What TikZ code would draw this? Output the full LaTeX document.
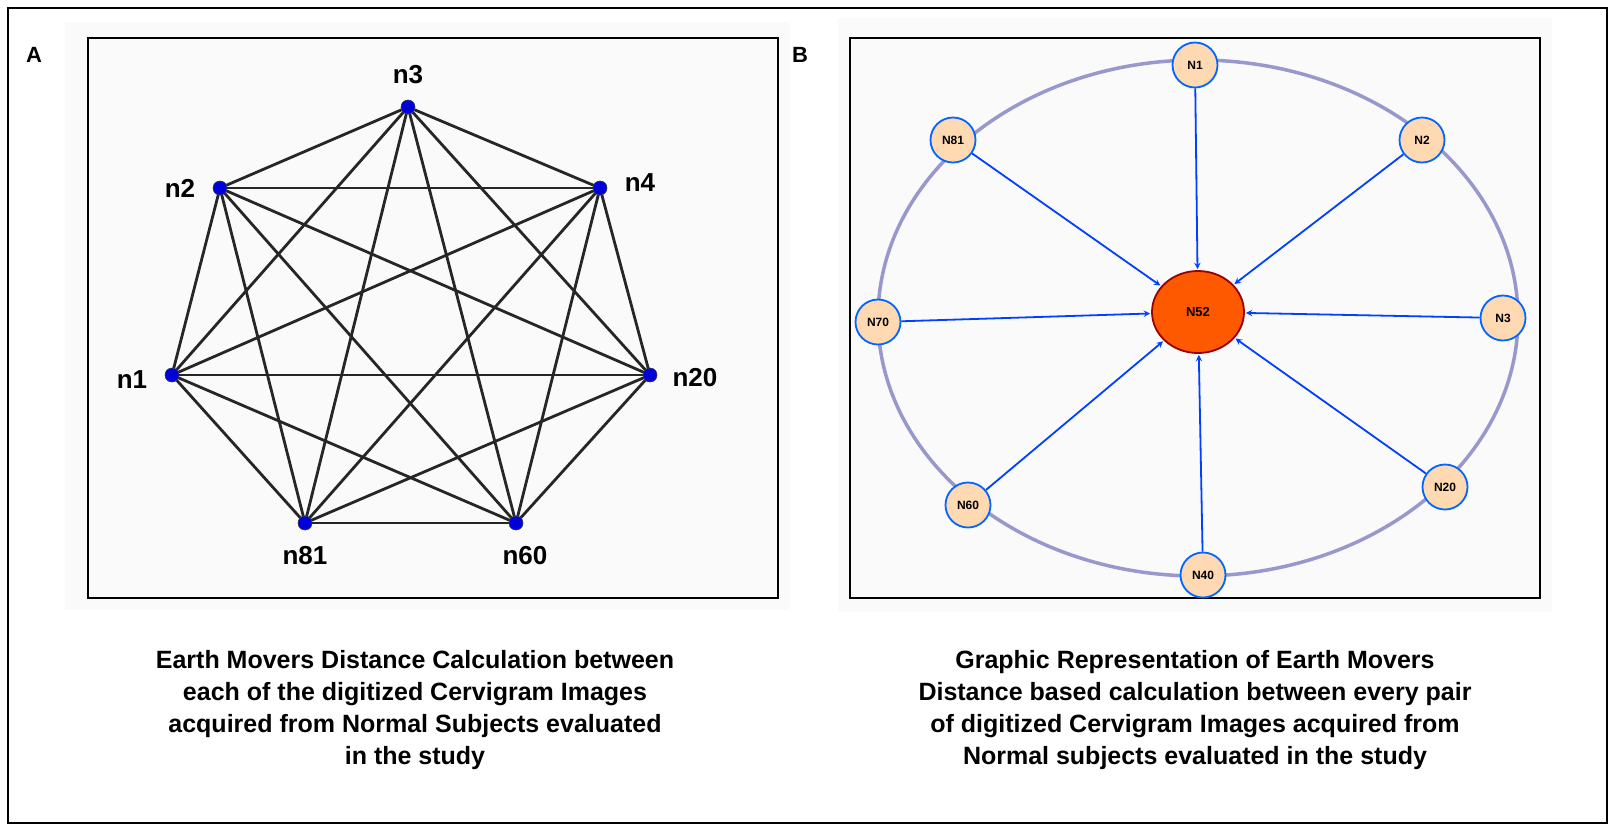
\documentclass[tikz,border=0pt]{standalone}
\usepackage{fontspec}
\usetikzlibrary{shapes.geometric}
\setmainfont{Liberation Sans}
\begin{document}
\begin{tikzpicture}[x=1pt,y=-1pt,
  dot/.style={circle,fill=blue!85!black,draw=black!70,inner sep=0,minimum size=14},
  lab/.style={font=\bfseries\fontsize{26}{30}\selectfont},
  edge/.style={line width=2.8pt,black!85},
  sn/.style={circle,draw=blue!60!cyan,line width=1.8pt,fill=orange!30,minimum size=45,inner sep=0,font=\bfseries\fontsize{12}{14}\selectfont},
  arr/.style={->,>=stealth,blue!75!cyan,line width=1.8pt,shorten >=1pt},
  captxt/.style={align=center,font=\bfseries\fontsize{25}{32}\selectfont}]
\useasboundingbox (0,0) rectangle (1615,831);
\draw[line width=1.2pt] (8,8) rectangle (1607,823);
\fill[gray!4] (65,22) rectangle (790,610);
\fill[gray!4] (838,18) rectangle (1552,612);
\draw[line width=2.5pt] (88,38) rectangle (778,598);
\draw[line width=2.5pt] (850,38) rectangle (1540,598);
\node[font=\bfseries\fontsize{22}{26}\selectfont] (A) at (34,55) {A};
\node[font=\bfseries\fontsize{22}{26}\selectfont] (B) at (800,55) {B};
% Panel A
\node[dot] (n3) at (408,107) {};
\node[dot] (n2) at (220,188) {};
\node[dot] (n4) at (600,188) {};
\node[dot] (n1) at (172,375) {};
\node[dot] (n20) at (650,375) {};
\node[dot] (n81) at (305,523) {};
\node[dot] (n60) at (516,523) {};
\foreach \a/\b in {n3/n2,n3/n4,n3/n1,n3/n20,n3/n81,n3/n60,n2/n4,n2/n1,n2/n20,n2/n81,n2/n60,n4/n1,n4/n20,n4/n81,n4/n60,n1/n20,n1/n81,n1/n60,n20/n81,n20/n60,n81/n60}
  \draw[edge] (\a.center) -- (\b.center);
\foreach \n in {n3,n2,n4,n1,n20,n81,n60} \node[dot] at (\n) {};
\node[lab] (l3) at (408,75) {n3};
\node[lab] (l2) at (180,188) {n2};
\node[lab] (l4) at (640,183) {n4};
\node[lab] (l1) at (132,380) {n1};
\node[lab] (l20) at (695,378) {n20};
\node[lab] (l81) at (305,556) {n81};
\node[lab] (l60) at (525,556) {n60};
% Panel B
\draw[blue!35!gray!60,line width=3.5pt] (1198,318) ellipse [x radius=320, y radius=258];
\node[ellipse,draw=red!60!black,line width=1.8pt,fill=orange!70!red,minimum width=92,minimum height=82,inner sep=0,font=\bfseries\fontsize{13}{15}\selectfont] (N52) at (1198,312) {N52};
\node[sn] (N1) at (1195,65) {N1};
\node[sn] (N2) at (1422,140) {N2};
\node[sn] (N81) at (953,140) {N81};
\node[sn] (N70) at (878,322) {N70};
\node[sn] (N3) at (1503,318) {N3};
\node[sn] (N20) at (1445,487) {N20};
\node[sn] (N60) at (968,505) {N60};
\node[sn] (N40) at (1203,575) {N40};
\foreach \n in {N1,N2,N81,N70,N3,N20,N60,N40} \draw[arr] (\n) -- (N52);
% captions
\node[captxt] (ca) at (415,710) {Earth Movers Distance Calculation between\\each of the digitized Cervigram Images\\acquired from Normal Subjects evaluated\\in the study};
\node[captxt] (cb) at (1195,710) {Graphic Representation of Earth Movers\\Distance based calculation between every pair\\of digitized Cervigram Images acquired from\\Normal subjects evaluated in the study};
\end{tikzpicture}
\end{document}
